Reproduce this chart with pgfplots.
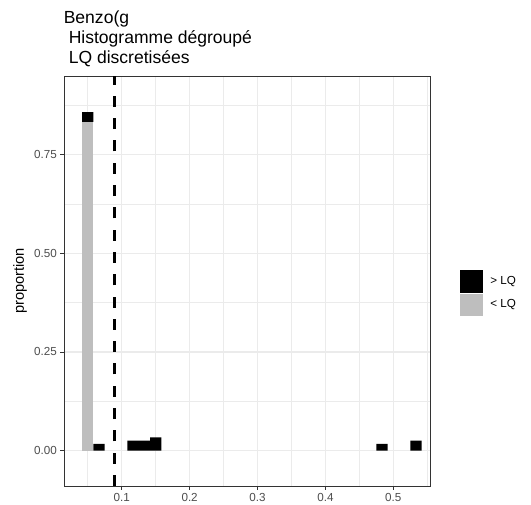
\documentclass[border=0pt]{standalone}
\usepackage{fontspec}
\setmainfont{Liberation Sans}
\usepackage{pgfplots}
\pgfplotsset{compat=1.18}
\definecolor{gridc}{RGB}{235,235,235}
\definecolor{borderc}{RGB}{51,51,51}
\definecolor{tickc}{RGB}{77,77,77}
\definecolor{lqgray}{RGB}{190,190,190}
\begin{document}
\begin{tikzpicture}
\useasboundingbox (-64bp,-19bp) rectangle (467bp,486bp);
\begin{axis}[
  scale only axis, width=366bp, height=410bp,
  xmin=0.015, xmax=0.554, ymin=-0.09, ymax=0.95,
  ybar stacked, bar width=0.016667,
  xtick={0.1,0.2,0.3,0.4,0.5}, xticklabels={0.1,0.2,0.3,0.4,0.5},
  ytick={0,0.25,0.5,0.75}, yticklabels={0.00,0.25,0.50,0.75},
  minor xtick={0.05,0.15,0.25,0.35,0.45,0.55},
  minor ytick={0.125,0.375,0.625,0.875},
  grid=both,
  major grid style={gridc, line width=1.1bp},
  minor grid style={gridc, line width=0.55bp},
  axis line style={borderc, line width=0.8bp},
  tick style={borderc, line width=0.8bp},
  tick align=outside, major tick length=3.7bp, minor tick length=0pt,
  xtick pos=left, ytick pos=left,
  /pgf/number format/assume math mode=true,
  ticklabel style={font=\fontsize{11.7}{14}\selectfont, text=tickc},
  ylabel={proportion},
  ylabel style={font=\fontsize{14.7}{17}\selectfont, at={(axis description cs:-0.12,0.5)}, anchor=center},
  legend style={draw=none, fill=none, at={(rel axis cs:1.082,0.527)}, anchor=north west,
    font=\fontsize{11.7}{14}\selectfont, row sep=1.3bp, column sep=6bp, cells={anchor=west}, inner sep=0pt},
]
\addlegendimage{legend image code/.code={\fill[black] (0bp,-10.85bp) rectangle (21.7bp,10.85bp);}}
\addlegendentry{> LQ}
\addlegendimage{legend image code/.code={\fill[lqgray] (0bp,-10.85bp) rectangle (21.7bp,10.85bp);}}
\addlegendentry{< LQ}
% < LQ (bottom of stack)
\addplot[fill=lqgray, draw=none, forget plot] coordinates {
 (0.05,0.83333) (0.066667,0) (0.116667,0) (0.133333,0) (0.15,0) (0.483333,0) (0.533333,0)};
% > LQ
\addplot[fill=black, draw=none, forget plot] coordinates {
 (0.05,0.025) (0.066667,0.016667) (0.116667,0.025) (0.133333,0.025) (0.15,0.033333) (0.483333,0.016667) (0.533333,0.025)};
% LQ threshold
\addplot[sharp plot, stack plots=false, black, line width=3bp, dash pattern=on 11bp off 11.3bp, forget plot] coordinates {(0.09,-0.09) (0.09,0.95)};
\end{axis}
\node[anchor=base west, inner sep=0pt, font=\fontsize{17.6}{20}\selectfont] at (-0.4bp,462.7bp) {Benzo(g};
\node[anchor=base west, inner sep=0pt, font=\fontsize{17.6}{20}\selectfont] at (4.6bp,442.7bp) {Histogramme dégroupé};
\node[anchor=base west, inner sep=0pt, font=\fontsize{17.6}{20}\selectfont] at (4.6bp,422.7bp) {LQ discretisées};
\end{tikzpicture}
\end{document}
